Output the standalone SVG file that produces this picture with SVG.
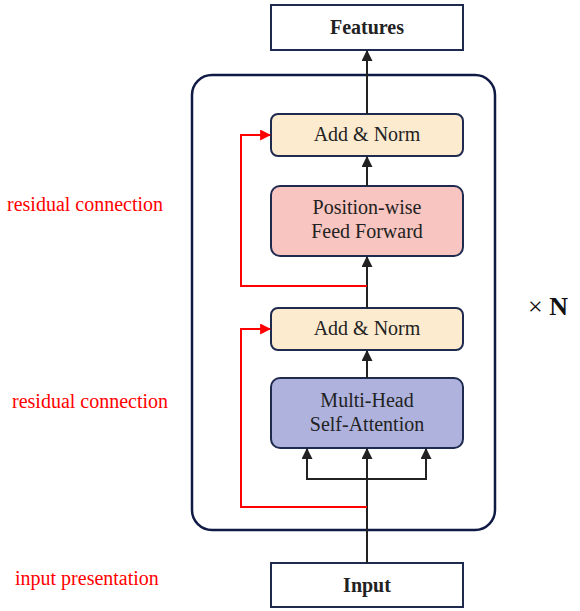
<svg xmlns="http://www.w3.org/2000/svg" width="580" height="611" viewBox="0 0 580 611">
  <style>
    .box { stroke: #1f2a4f; stroke-width: 2; }
    .label { font-family: "Liberation Serif", "Times New Roman", serif; font-size: 20px; fill: #222; text-anchor: middle; }
    .bold { font-weight: bold; }
    .note { font-family: "Liberation Serif", "Times New Roman", serif; font-size: 20px; fill: #ff0000; }
    .flow { stroke: #222; stroke-width: 2; fill: none; }
    .res { stroke: #ff0000; stroke-width: 2; fill: none; }
  </style>
  <defs>
    <marker id="arrow" viewBox="0 0 10 10" refX="9" refY="5" markerWidth="11" markerHeight="11" orient="auto-start-reverse" markerUnits="userSpaceOnUse">
      <path d="M0,0 L10,5 L0,10 z" fill="#222"/>
    </marker>
    <marker id="arrow-red" viewBox="0 0 10 10" refX="9" refY="5" markerWidth="11" markerHeight="11" orient="auto" markerUnits="userSpaceOnUse">
      <path d="M0,0 L10,5 L0,10 z" fill="#ff0000"/>
    </marker>
  </defs>
  <rect width="580" height="611" fill="#fff"/>

  <!-- encoder block container -->
  <g id="encoder-block">
    <rect x="192" y="75" width="303" height="455" rx="20" fill="none" stroke="#0f1a45" stroke-width="2.5"/>
  </g>

  <g id="features">
    <rect class="box" x="271" y="5" width="192" height="45" fill="#fff"/>
    <text class="label bold" x="367" y="34">Features</text>
  </g>

  <g id="add-norm-2">
    <rect class="box" x="271" y="114" width="192" height="42" rx="7" fill="#fdebd0"/>
    <text class="label" x="367" y="141">Add &amp; Norm</text>
  </g>

  <g id="feed-forward">
    <rect class="box" x="271" y="186" width="192" height="70" rx="9" fill="#f9c5c0"/>
    <text class="label" x="367" y="214">Position-wise</text>
    <text class="label" x="367" y="238">Feed Forward</text>
  </g>

  <g id="add-norm-1">
    <rect class="box" x="271" y="308" width="192" height="42" rx="7" fill="#fdebd0"/>
    <text class="label" x="367" y="335">Add &amp; Norm</text>
  </g>

  <g id="self-attention">
    <rect class="box" x="271" y="378" width="192" height="70" rx="9" fill="#aeb2dd"/>
    <text class="label" x="367" y="407">Multi-Head</text>
    <text class="label" x="367" y="431">Self-Attention</text>
  </g>

  <g id="input">
    <rect class="box" x="271" y="563" width="192" height="44" fill="#fff"/>
    <text class="label bold" x="367" y="592">Input</text>
  </g>

  <g id="connectors">
    <line class="flow" x1="367" y1="114" x2="367" y2="51" marker-end="url(#arrow)"/>
    <line class="flow" x1="367" y1="186" x2="367" y2="157" marker-end="url(#arrow)"/>
    <line class="flow" x1="367" y1="308" x2="367" y2="257" marker-end="url(#arrow)"/>
    <line class="flow" x1="367" y1="378" x2="367" y2="351" marker-end="url(#arrow)"/>
    <line class="flow" x1="367" y1="563" x2="367" y2="449" marker-end="url(#arrow)"/>
    <polyline class="flow" points="307,449 307,479 426,479 426,449" marker-start="url(#arrow)" marker-end="url(#arrow)"/>
    <polyline class="res" points="367,286 241,286 241,135 270,135" marker-end="url(#arrow-red)"/>
    <polyline class="res" points="367,507 241,507 241,329 270,329" marker-end="url(#arrow-red)"/>
  </g>

  <g id="annotations">
    <text class="note" x="7" y="211">residual connection</text>
    <text class="note" x="12" y="408">residual connection</text>
    <text class="note" x="15" y="585">input presentation</text>
    <text x="528" y="315" font-family="Liberation Serif, Times New Roman, serif" font-size="26" fill="#111"><tspan>× </tspan><tspan font-weight="bold">N</tspan></text>
  </g>
</svg>
